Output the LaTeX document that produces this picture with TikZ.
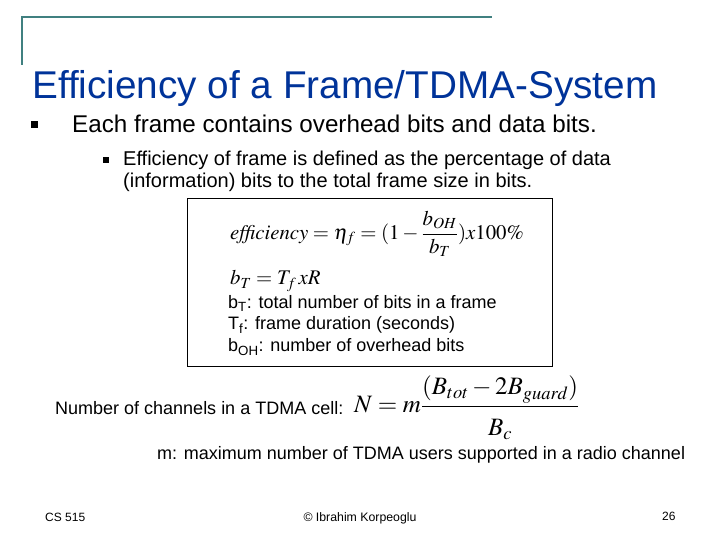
\documentclass[tikz,border=0pt]{standalone}
\usepackage{mathptmx}
\usepackage{fontspec}
\setmainfont{Liberation Sans}
\definecolor{teal1}{RGB}{64,128,128}
\definecolor{titleblue}{RGB}{0,51,153}
\begin{document}
\begin{tikzpicture}[x=1pt,y=-1pt,
  txt/.style={anchor=west,inner sep=0pt,font=\fontsize{18}{22}\selectfont},
  bul/.style={fill=black,minimum size=#1,inner sep=0pt}]
\useasboundingbox (0,0) rectangle (720,540);
\draw[teal1,line width=1.5pt] (22,65) -- (22,17) coordinate (c) -- (492,17);
\node[anchor=west,inner sep=0pt,text=titleblue,font=\fontsize{38.7}{40}\selectfont] (title) at (32,88) {Efficiency of a Frame/TDMA-System};
\node[bul=7pt] (b1) at (34,125) {};
\node[txt,font=\fontsize{24.2}{26}\selectfont] (t1) at (72,124) {Each frame contains overhead bits and data bits.};
\node[bul=6pt] (b2) at (106,160) {};
\node[txt,align=left,font=\fontsize{20}{22}\selectfont] (t2) at (123,171) {Efficiency of frame is defined as the percentage of data\\(information) bits to the total frame size in bits.};
\draw[line width=0.8pt] (187,198) rectangle (552,366);
\node[anchor=west,inner sep=0pt,font=\fontsize{20.8}{24}\selectfont] (f1) at (230,234) {$\displaystyle \mathit{efficiency}=\eta_f=(1-\frac{b_{OH}}{b_T})x100\%$};
\node[anchor=west,inner sep=0pt,font=\fontsize{20.8}{24}\selectfont] (f2) at (230,281) {$b_T=T_f\,xR$};
\node[txt] (l1) at (228,303) {b\textsubscript{T}: total number of bits in a frame};
\node[txt] (l2) at (228,325) {T\textsubscript{f}: frame duration (seconds)};
\node[txt] (l3) at (228,347) {b\textsubscript{OH}: number of overhead bits};
\node[txt] (nc) at (55,408) {Number of channels in a TDMA cell:};
\node[anchor=west,inner sep=0pt,font=\fontsize{25}{28}\selectfont] (f3) at (354,408) {$\displaystyle N=m\frac{(B_{tot}-2B_{guard})}{\rule{0pt}{26pt}B_c}$};
\node[txt] (m) at (157,455) {m: maximum number of TDMA users supported in a radio channel};
\node[txt,font=\fontsize{12}{13}\selectfont] (cs) at (45,517) {CS 515};
\node[inner sep=0pt,font=\fontsize{12.3}{13}\selectfont] (cp) at (360,518) {© Ibrahim Korpeoglu};
\node[txt,font=\fontsize{12}{13}\selectfont] (pg) at (662,516) {26};
\end{tikzpicture}
\end{document}
